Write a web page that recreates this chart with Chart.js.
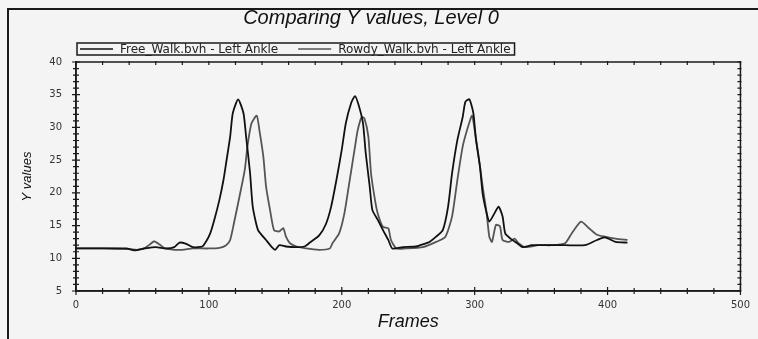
<!DOCTYPE html>
<html>
<head>
<meta charset="utf-8">
<title>Comparing Y values, Level 0</title>
<script src="https://cdn.jsdelivr.net/npm/chart.js@4.4.0/dist/chart.umd.min.js"></script>
<style>
    html, body { margin: 0; padding: 0; background: #f4f4f4; }
    #wrap { position: relative; width: 758px; height: 339px; overflow: hidden; }
    #walkChart { position: absolute; left: 0; top: 0; }
    #frame {
        position: absolute; left: 7px; top: 8px; width: 800px; height: 400px;
        border-top: 2px solid #1a1a1a; border-left: 2px solid #1a1a1a;
        pointer-events: none;
    }
</style>
</head>
<body>
<div id="wrap">
    <canvas id="walkChart" width="758" height="339"></canvas>
    <div id="frame"></div>
</div>
<script>
// data
const seriesLabels = ['Free_Walk.bvh - Left Ankle', 'Rowdy_Walk.bvh - Left Ankle'];

const freeFrames = [0, 20, 38, 44, 52, 60, 68, 74, 78, 83, 88, 95, 98, 101, 104, 108, 111, 113, 116, 118,
    122, 126, 128, 131, 133, 137, 143, 147, 150, 153, 158, 165, 172, 176, 183, 188, 192, 196, 200, 203,
    207, 210, 213, 216, 218, 221, 223, 227, 231, 235, 238, 246, 256, 262, 266, 271, 276, 280, 283, 287,
    291, 293, 296, 299, 301, 304, 306, 309, 311, 315, 318, 321, 323, 327, 332, 336, 343, 353, 368, 383,
    392, 398, 406, 415];
const freeValues = [11.5, 11.5, 11.5, 11.2, 11.5, 11.7, 11.5, 11.7, 12.4, 12.2, 11.7, 11.8, 12.6, 13.8, 15.8, 19.0, 22.0, 24.6, 28.6, 32.2,
    34.3, 32.2, 28.6, 23.0, 17.9, 14.3, 12.8, 11.8, 11.3, 12.0, 11.8, 11.7, 11.8, 12.4, 13.5, 15.2, 17.9, 22.0, 26.6, 30.6,
    33.7, 34.8, 33.2, 30.6, 26.1, 21.0, 17.4, 15.9, 14.3, 12.8, 11.5, 11.7, 11.8, 12.2, 12.5, 13.3, 14.3, 17.9, 23.0, 28.1,
    31.6, 33.9, 34.3, 32.2, 28.1, 24.0, 19.9, 16.9, 15.6, 16.9, 17.9, 16.4, 13.8, 13.0, 12.3, 11.7, 12.0, 12.0, 12.0, 12.0,
    12.8, 13.2, 12.5, 12.4];

const rowdyFrames = [0, 20, 40, 46, 52, 56, 59, 63, 67, 74, 80, 88, 100, 108, 113, 116, 119, 123, 127, 129,
    132, 136, 138, 141, 143, 146, 149, 153, 156, 158, 161, 166, 173, 183, 191, 193, 198, 202, 206, 210,
    212, 215, 217, 220, 222, 225, 227, 231, 235, 237, 241, 248, 261, 271, 278, 283, 287, 291, 295, 298,
    300, 303, 306, 309, 311, 313, 316, 319, 321, 326, 330, 333, 338, 348, 358, 368, 373, 380, 386, 392,
    398, 406, 415];
const rowdyValues = [11.5, 11.5, 11.4, 11.3, 11.6, 12.2, 12.6, 12.1, 11.5, 11.3, 11.3, 11.5, 11.5, 11.6, 12.0, 12.8, 15.5, 19.4, 23.5, 27.1,
    30.6, 31.8, 29.6, 25.5, 21.0, 17.4, 14.3, 14.1, 14.6, 13.3, 12.3, 11.8, 11.5, 11.3, 11.5, 12.3, 13.8, 16.9, 22.0, 27.1,
    29.6, 31.6, 31.4, 28.6, 23.0, 18.9, 16.9, 14.8, 14.6, 12.8, 11.5, 11.5, 11.7, 12.5, 13.3, 16.4, 22.0, 27.1, 30.1, 31.8,
    29.6, 25.5, 21.0, 16.9, 13.3, 12.5, 15.1, 14.9, 12.8, 12.5, 13.0, 12.3, 11.7, 12.0, 12.0, 12.3, 13.8, 15.6, 14.6, 13.6,
    13.3, 13.0, 12.8];

const xTickValues = [0, 100, 200, 300, 400, 500];
const yTickValues = [5, 10, 15, 20, 25, 30, 35, 40];

const toPoints = (frames, values) => frames.map((f, i) => ({ x: f, y: values[i] }));

// plot frame with small tick marks on all four sides
const frameTicks = {
    id: 'frameTicks',
    afterDraw(chart) {
        const { ctx, chartArea: a, scales: { x, y } } = chart;
        ctx.save();
        ctx.strokeStyle = '#1a1a1a';
        ctx.lineWidth = 1.5;
        ctx.strokeRect(a.left, a.top, a.right - a.left, a.bottom - a.top);

        ctx.lineWidth = 1.2;
        ctx.beginPath();
        for (let v = y.min; v <= y.max; v += 1) {
            const py = y.getPixelForValue(v);
            const len = v % 5 === 0 ? 4 : 3;
            ctx.moveTo(a.left - len, py);
            ctx.lineTo(a.left + len, py);
            ctx.moveTo(a.right - 3, py);
            ctx.lineTo(a.right + 1, py);
        }
        for (let v = x.min; v <= x.max; v += 20) {
            const px = x.getPixelForValue(v);
            const len = v % 100 === 0 ? 4 : 3;
            ctx.moveTo(px, a.bottom - len);
            ctx.lineTo(px, a.bottom + len);
            ctx.moveTo(px, a.top - 1);
            ctx.lineTo(px, a.top + 3);
        }
        ctx.stroke();
        ctx.restore();
    }
};

// legend in a thin box, just above the plot
const boxedLegend = {
    id: 'boxedLegend',
    afterDraw(chart) {
        const { ctx, chartArea: a } = chart;
        const top = a.top - 19;
        const h = 12;
        const midY = top + h / 2;
        ctx.save();
        ctx.font = '12px "DejaVu Sans"';
        ctx.textBaseline = 'middle';
        let cx = a.left + 4;
        chart.data.datasets.forEach((ds, i) => {
            ctx.strokeStyle = ds.borderColor;
            ctx.lineWidth = 1.3;
            ctx.beginPath();
            ctx.moveTo(cx, midY);
            ctx.lineTo(cx + 33, midY);
            ctx.stroke();
            cx += 40;
            ctx.fillStyle = '#222';
            ctx.fillText(ds.label, cx, midY + 0.5);
            cx += ctx.measureText(ds.label).width;
            if (i < chart.data.datasets.length - 1) cx += 20;
        });
        ctx.strokeStyle = '#1a1a1a';
        ctx.lineWidth = 1.5;
        ctx.strokeRect(a.left + 1, top, cx + 4 - (a.left + 1), h);
        ctx.restore();
    }
};

const ctx = document.getElementById('walkChart').getContext('2d');
const walkChart = new Chart(ctx, {
    type: 'line',
    data: {
        datasets: [{
            label: seriesLabels[0],
            data: toPoints(freeFrames, freeValues),
            borderColor: '#111111',
            borderWidth: 1.8,
            pointRadius: 0,
            tension: 0.2
        }, {
            label: seriesLabels[1],
            data: toPoints(rowdyFrames, rowdyValues),
            borderColor: '#555555',
            borderWidth: 1.8,
            pointRadius: 0,
            tension: 0.2
        }]
    },
    options: {
        responsive: false,
        animation: false,
        devicePixelRatio: 1,
        layout: { padding: { left: 0, right: 16, top: 0, bottom: 0 } },
        plugins: {
            legend: { display: false },
            tooltip: { enabled: false },
            title: {
                display: true,
                text: 'Comparing Y values, Level 0',
                color: '#111',
                font: { family: 'Liberation Sans', size: 20, style: 'italic', weight: 'normal' },
                padding: { top: 6, bottom: 32 }
            }
        },
        scales: {
            x: {
                type: 'linear',
                min: 0,
                max: 500,
                afterBuildTicks: scale => { scale.ticks = xTickValues.map(v => ({ value: v })); },
                afterFit: scale => { scale.height = 48; },
                grid: { display: false, drawTicks: false },
                border: { display: true, color: '#1a1a1a', width: 1.5 },
                ticks: { color: '#333', padding: 8, maxRotation: 0, font: { family: 'DejaVu Sans', size: 10 } },
                title: {
                    display: true,
                    text: 'Frames',
                    color: '#111',
                    font: { family: 'Liberation Sans', size: 18, style: 'italic' },
                    padding: { top: 0, bottom: 6 }
                }
            },
            y: {
                min: 5,
                max: 40,
                afterBuildTicks: scale => { scale.ticks = yTickValues.map(v => ({ value: v })); },
                afterFit: scale => { scale.width = 76; },
                grid: { display: false, drawTicks: false },
                border: { display: true, color: '#1a1a1a', width: 1.5 },
                ticks: { color: '#333', padding: 14, font: { family: 'DejaVu Sans', size: 10 } },
                title: {
                    display: true,
                    text: 'Y values',
                    color: '#111',
                    font: { family: 'Liberation Sans', size: 13, style: 'italic' },
                    padding: { top: 20, bottom: 0 }
                }
            }
        }
    },
    plugins: [frameTicks, boxedLegend]
});
</script>
</body>
</html>
